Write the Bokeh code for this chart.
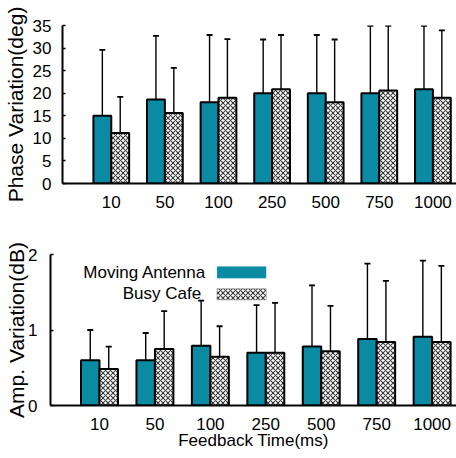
from bokeh.plotting import figure
from bokeh.models import (ColumnDataSource, Whisker, TeeHead, FixedTicker, Label,
                          BoxAnnotation, Range1d)
from bokeh.transform import dodge
from bokeh.embed import file_html
from bokeh.resources import INLINE

# ---------------- data ----------------
feedback_labels = ["10", "50", "100", "250", "500", "750", "1000"]
series_names = ["Moving Antenna", "Busy Cafe"]

phase_ma = [15.0, 18.6, 18.0, 20.0, 20.0, 20.0, 20.9]
phase_ma_hi = [29.6, 32.7, 32.9, 31.9, 32.9, 34.9, 34.9]
phase_ma_lo = [0.2, 4.6, 2.9, 8.0, 6.9, 4.9, 5.9]
phase_bc = [11.2, 15.6, 19.0, 20.9, 18.0, 20.6, 19.0]
phase_bc_hi = [19.2, 25.6, 32.0, 32.9, 31.9, 34.9, 33.9]
phase_bc_lo = [3.2, 5.7, 5.9, 8.9, 4.0, 5.7, 3.9]

amp_ma = [0.60, 0.60, 0.79, 0.70, 0.78, 0.88, 0.91]
amp_ma_hi = [1.00, 0.96, 1.39, 1.33, 1.59, 1.88, 1.92]
amp_ma_lo = [0.19, 0.24, 0.18, 0.06, 0.00, 0.00, 0.00]
amp_bc = [0.485, 0.75, 0.645, 0.70, 0.72, 0.84, 0.84]
amp_bc_hi = [0.78, 1.25, 1.05, 1.36, 1.32, 1.65, 1.85]
amp_bc_lo = [0.17, 0.25, 0.25, 0.02, 0.12, 0.02, 0.00]

phase_ticks = [0, 5, 10, 15, 20, 25, 30, 35]
amp_ticks = [0, 1, 2]

TEAL = "#0b8aa4"
FONT = "Liberation Sans"
BAR_W = 1 / 3
xs = list(range(1, len(feedback_labels) + 1))


def style(p, yticks, ylabel):
    p.outline_line_color = None
    p.xgrid.visible = False
    p.ygrid.visible = False
    p.background_fill_color = "white"
    for ax in (p.xaxis[0], p.yaxis[0]):
        ax.axis_line_width = 2
        ax.axis_line_color = "black"
        ax.major_label_text_font = FONT
        ax.major_label_text_font_size = "17px"
        ax.major_label_text_color = "black"
        ax.minor_tick_line_color = None
        ax.axis_label_text_font = FONT
        ax.axis_label_text_font_style = "normal"
        ax.axis_label_text_color = "black"
    p.xaxis[0].ticker = FixedTicker(ticks=xs)
    p.xaxis[0].major_label_overrides = {x: lab for x, lab in zip(xs, feedback_labels)}
    p.xaxis[0].major_tick_line_color = None
    p.xaxis[0].major_label_standoff = 6
    p.yaxis[0].ticker = FixedTicker(ticks=yticks)
    p.yaxis[0].major_tick_in = 3
    p.yaxis[0].major_tick_out = 0
    p.yaxis[0].major_tick_line_width = 1.5
    p.yaxis[0].axis_label = ylabel
    p.yaxis[0].axis_label_text_font_size = "21px"


def bars(p, ma, ma_hi, ma_lo, bc, bc_hi, bc_lo):
    src = ColumnDataSource(dict(x=xs, ma=ma, ma_hi=ma_hi, ma_lo=ma_lo,
                                bc=bc, bc_hi=bc_hi, bc_lo=bc_lo))
    xl = dodge("x", -BAR_W / 2, range=p.x_range)
    xr = dodge("x", BAR_W / 2, range=p.x_range)
    p.vbar(x=xl, top="ma", width=BAR_W, bottom=0, source=src,
           fill_color=TEAL, line_color="black", line_width=2)
    p.vbar(x=xr, top="bc", width=BAR_W, bottom=0, source=src,
           fill_color="white", line_color="black", line_width=2,
           hatch_pattern="x", hatch_color="#3c3c3c", hatch_scale=5, hatch_weight=1.1)
    for base, up, lo in ((xl, "ma_hi", "ma_lo"), (xr, "bc_hi", "bc_lo")):
        w = Whisker(source=src, base=base, upper=up, lower=lo, dimension="height",
                    line_color="black", line_width=1.4,
                    upper_head=TeeHead(size=6, line_width=1.8, line_color="black"),
                    lower_head=TeeHead(size=6, line_width=1.8, line_color="black"))
        p.add_layout(w)


# ---------------- top: phase ----------------
p1 = figure(width=456, height=225, output_backend="svg", toolbar_location=None,
            x_range=Range1d(0.09, 7.44), y_range=Range1d(0, 35),
            min_border_left=60, min_border_right=0, min_border_top=25, min_border_bottom=42)
style(p1, phase_ticks, "Phase Variation(deg)")
p1.yaxis[0].major_label_standoff = 11
p1.yaxis[0].axis_label_standoff = 3
bars(p1, phase_ma, phase_ma_hi, phase_ma_lo, phase_bc, phase_bc_hi, phase_bc_lo)

# ---------------- bottom: amplitude ----------------
p2 = figure(width=456, height=233, output_backend="svg", toolbar_location=None,
            x_range=Range1d(0.116, 7.44), y_range=Range1d(0, 2),
            min_border_left=50, min_border_right=0, min_border_top=29, min_border_bottom=53)
style(p2, amp_ticks, "Amp. Variation(dB)")
p2.yaxis[0].major_label_standoff = 13
p2.yaxis[0].axis_label_standoff = -3
p2.xaxis[0].axis_label = "Feedback Time(ms)"
p2.xaxis[0].axis_label_text_font_size = "17px"
p2.xaxis[0].axis_label_standoff = -2

# legend (label to the left of its sample, as in the original)
p2.add_layout(Label(x=2.924, y=1.76, text=series_names[0], text_align="right",
                    text_baseline="middle", text_font=FONT, text_font_size="17px",
                    text_color="black"))
p2.add_layout(Label(x=2.127, y=1.48, text=series_names[1], text_align="center",
                    text_baseline="middle", text_font=FONT, text_font_size="17px",
                    text_color="black"))
p2.add_layout(BoxAnnotation(left=3.12, right=4.006, bottom=1.686, top=1.84,
                            fill_color=TEAL, fill_alpha=1, line_color="#5fb6c8",
                            line_width=1, level="overlay"))
p2.add_layout(BoxAnnotation(left=3.12, right=4.006, bottom=1.40, top=1.546,
                            fill_color="white", fill_alpha=1, line_color="#4a5560",
                            line_width=1.5, hatch_pattern="x", hatch_color="#3c3c3c",
                            hatch_scale=5, hatch_weight=1.1, level="overlay"))

bars(p2, amp_ma, amp_ma_hi, amp_ma_lo, amp_bc, amp_bc_hi, amp_bc_lo)

# two independent roots, stacked, so each keeps its own frame position
open("out.html", "w").write(file_html([p1, p2], INLINE))
